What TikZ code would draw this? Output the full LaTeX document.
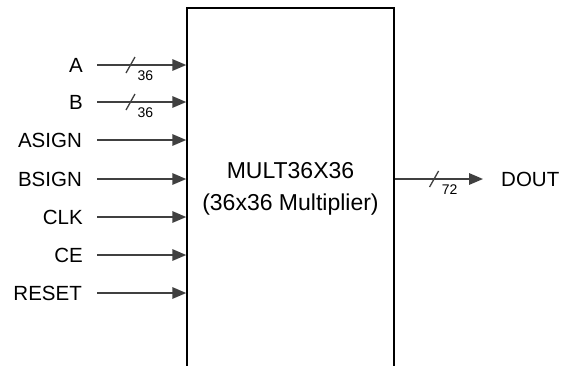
\documentclass[tikz,border=0pt]{standalone}
\usepackage{fontspec}
\setmainfont{Liberation Sans}
\usepackage{tikz}
\usetikzlibrary{arrows.meta,positioning,calc}

\begin{document}
\begin{tikzpicture}[
  x=1pt, y=-1pt,
  blk/.style={rectangle, draw=black, line width=1.5pt, inner sep=0pt, align=center, font=\fontsize{23}{31.5}\selectfont},
  lbl/.style={anchor=east, inner sep=0pt, font=\fontsize{20.5}{24}\selectfont},
  olbl/.style={anchor=west, inner sep=0pt, font=\fontsize{20.5}{24}\selectfont},
  sig/.style={-{Triangle[length=14pt,width=11.5pt]}, draw=black!75, fill=black!75, line width=1.6pt},
  slash/.style={draw=black!75, line width=1.3pt},
  buslbl/.style={inner sep=0pt, font=\fontsize{14}{16}\selectfont}
]
  \useasboundingbox (0,0) rectangle (563,365);
  \clip (0,0) rectangle (563,365);

  \node[blk, minimum width=207pt, minimum height=362pt] (box) at (290.5,189) {MULT36X36\\(36x36 Multiplier)};

  % inputs
  \node[lbl] (A) at (83,65) {A};
  \node[lbl] (B) at (83,102) {B};
  \node[lbl] (ASIGN) at (82,140) {ASIGN};
  \node[lbl] (BSIGN) at (82,179) {BSIGN};
  \node[lbl] (CLK) at (83,217) {CLK};
  \node[lbl] (CE) at (83,255) {CE};
  \node[lbl] (RESET) at (82,293) {RESET};

  \draw[sig, shorten <=14pt] (A) -- (A -| box.west) coordinate[pos=0.46] (Am);
  \draw[sig, shorten <=14pt] (B) -- (B -| box.west) coordinate[pos=0.46] (Bm);
  \draw[sig, shorten <=15pt] (ASIGN) -- (ASIGN -| box.west);
  \draw[sig, shorten <=15pt] (BSIGN) -- (BSIGN -| box.west);
  \draw[sig, shorten <=14pt] (CLK) -- (CLK -| box.west);
  \draw[sig, shorten <=14pt] (CE) -- (CE -| box.west);
  \draw[sig, shorten <=15pt] (RESET) -- (RESET -| box.west);

  % bus widths
  \draw[slash] ($(Am)+(-4.5,8)$) -- ($(Am)+(4.5,-8)$);
  \node[buslbl] (An) at ($(Am)+(15,11)$) {36};
  \draw[slash] ($(Bm)+(-4.5,8)$) -- ($(Bm)+(4.5,-8)$);
  \node[buslbl] (Bn) at ($(Bm)+(15,11)$) {36};

  % output
  \node[olbl] (DOUT) at (501,179) {DOUT};
  \draw[sig, shorten >=18pt] (DOUT -| box.east) -- (DOUT) coordinate[pos=0.37] (Dm);
  \draw[slash] ($(Dm)+(-4.5,8)$) -- ($(Dm)+(4.5,-8)$);
  \node[buslbl] (Dn) at ($(Dm)+(15.5,11)$) {72};
\end{tikzpicture}
\end{document}
